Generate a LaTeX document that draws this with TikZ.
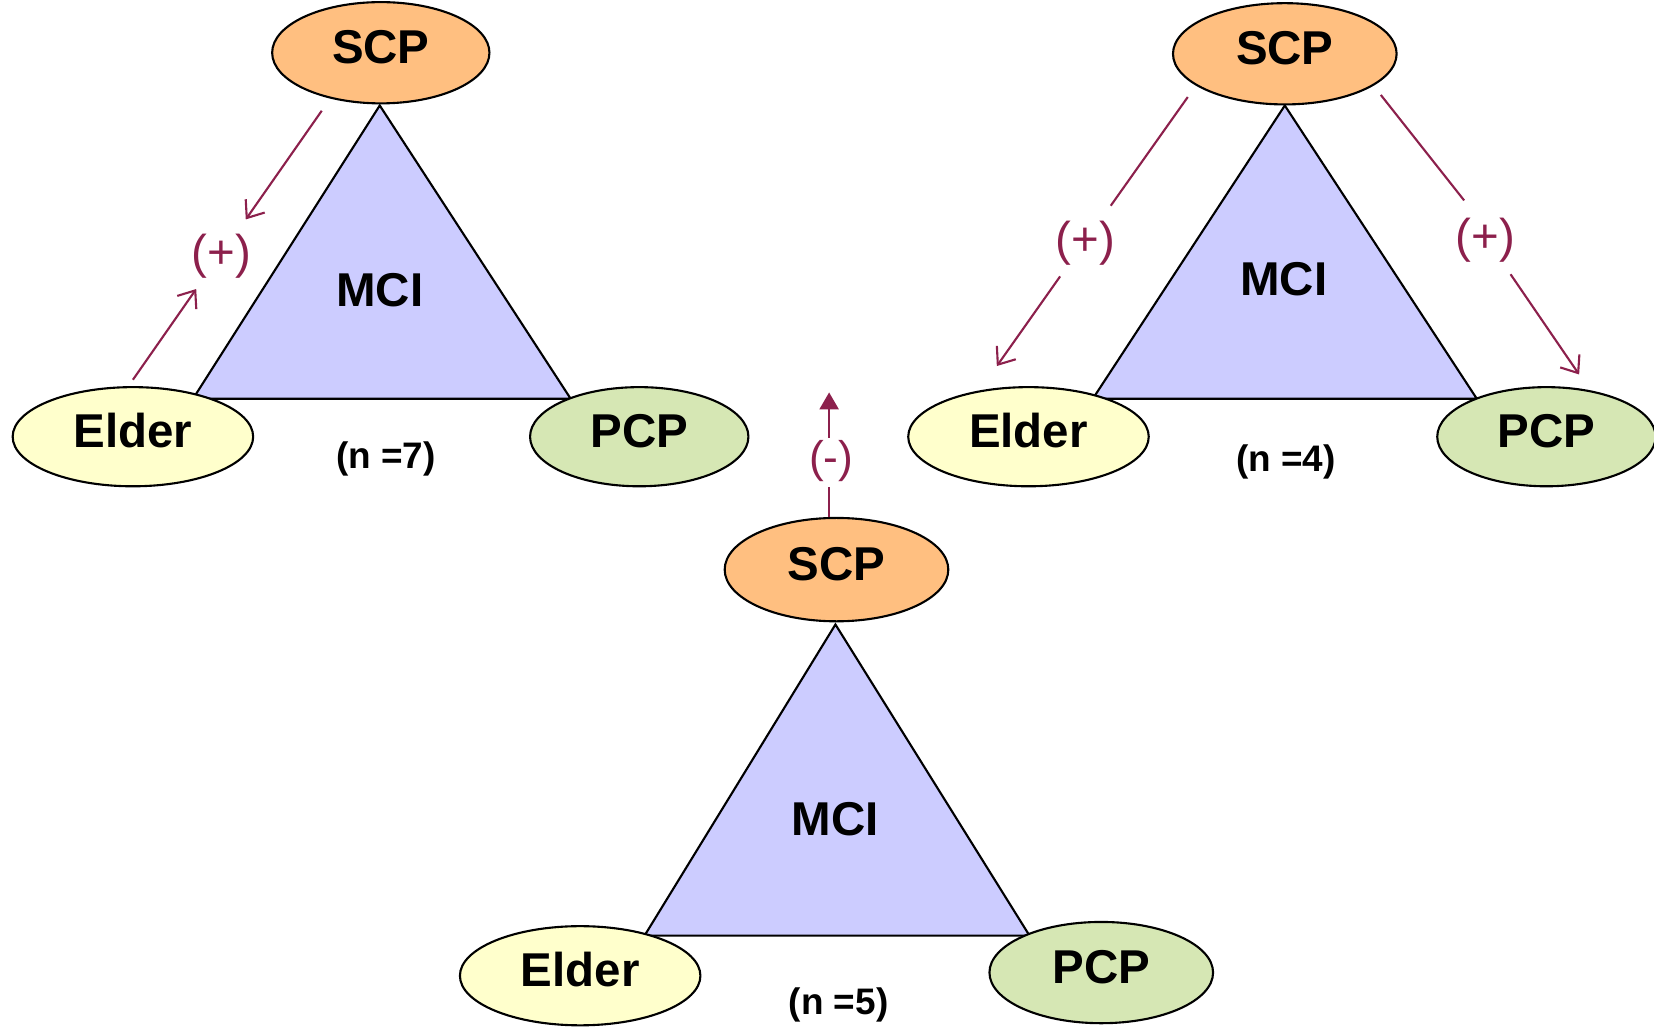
\documentclass[tikz,border=0pt]{standalone}
\usepackage{fontspec}
\setmainfont{Liberation Sans}
\usetikzlibrary{shapes.geometric,arrows.meta}
\definecolor{scpfill}{RGB}{255,191,128}
\definecolor{elderfill}{RGB}{255,255,204}
\definecolor{pcpfill}{RGB}{214,231,180}
\definecolor{trifill}{RGB}{204,204,255}
\definecolor{maroon}{RGB}{140,32,76}
\tikzset{
  oval/.style={ellipse, draw=black, line width=2pt, inner sep=0pt,
    text height=32pt, text depth=12pt,
    font=\fontsize{45}{50}\selectfont\bfseries},
  scpnode/.style={oval, fill=scpfill, minimum width=206pt, minimum height=96pt},
  eldernode/.style={oval, fill=elderfill, minimum width=228pt, minimum height=94pt},
  pcpnode/.style={oval, fill=pcpfill, minimum width=207pt, minimum height=94pt},
  tri/.style={draw=black, fill=trifill, line width=2pt, line join=miter},
  mcitext/.style={font=\fontsize{45}{50}\selectfont\bfseries},
  ntext/.style={font=\fontsize{35}{40}\selectfont\bfseries},
  signtext/.style={text=maroon, font=\fontsize{45}{50}\selectfont},
  link/.style={draw=maroon, line width=2pt},
  openarrow/.style={link, -{Straight Barb[length=14pt,width=22pt,line width=2pt]}},
  fillarrow/.style={link, -{Triangle[length=16pt,width=18pt]}}
}
\begin{document}
\begin{tikzpicture}[x=1pt,y=-1pt]
\useasboundingbox (0,0) rectangle (1568,977);

% ---------- Panel 1 ----------
\coordinate (t1a) at (360,100);
\coordinate (t1l) at (183,378);
\coordinate (t1r) at (541,378);
\draw[tri] (t1a) -- (t1l) -- (t1r) -- cycle;
\node[mcitext] (mci1) at (360,275) {MCI};
\node[scpnode] (scp1) at (361,50) {SCP};
\node[eldernode] (elder1) at (126,414) {Elder};
\node[pcpnode] (pcp1) at (606,414) {PCP};
\node[ntext] (n1) at (366,435) {(n =7)};
\node[signtext] (s1) at (210,243) {(+)};
\coordinate (a1s) at (305,105);
\coordinate (a1e) at (233,208);
\coordinate (b1s) at (126,360);
\coordinate (b1e) at (186,274);
\draw[openarrow] (a1s) -- (a1e);
\draw[openarrow] (b1s) -- (b1e);

% ---------- Panel 2 ----------
\coordinate (t2a) at (1218,100);
\coordinate (t2l) at (1036,378);
\coordinate (t2r) at (1400,378);
\draw[tri] (t2a) -- (t2l) -- (t2r) -- cycle;
\node[mcitext] (mci2) at (1217,265) {MCI};
\node[scpnode, minimum width=212pt] (scp2) at (1218,51) {SCP};
\node[eldernode] (elder2) at (975,414) {Elder};
\node[pcpnode] (pcp2) at (1466,414) {PCP};
\node[ntext] (n2) at (1219,438) {(n =4)};
\node[signtext] (s2) at (1029,231) {(+)};
\node[signtext] (s3) at (1408,228) {(+)};
\coordinate (c2s) at (1126,92);
\coordinate (c2e) at (1053,195);
\coordinate (d2s) at (1005,262);
\coordinate (d2e) at (945,347);
\coordinate (e2s) at (1309,90);
\coordinate (e2e) at (1388,190);
\coordinate (f2s) at (1432,260);
\coordinate (f2e) at (1497,355);
\draw[link] (c2s) -- (c2e);
\draw[openarrow] (d2s) -- (d2e);
\draw[link] (e2s) -- (e2e);
\draw[openarrow] (f2s) -- (f2e);

% ---------- Panel 3 ----------
\coordinate (t3a) at (792,592);
\coordinate (t3l) at (611,887);
\coordinate (t3r) at (976,887);
\draw[tri] (t3a) -- (t3l) -- (t3r) -- cycle;
\node[mcitext] (mci3) at (792,777) {MCI};
\node[scpnode, minimum width=212pt, minimum height=98pt] (scp3) at (793,540) {SCP};
\node[eldernode] (elder3) at (550,925) {Elder};
\node[pcpnode, minimum width=212pt, minimum height=96pt] (pcp3) at (1044,922) {PCP};
\node[ntext] (n3) at (795,953) {(n =5)};
\node[signtext, font=\fontsize{42}{48}\selectfont] (s4) at (788,437) {(-)};
\coordinate (g3e) at (786,462);
\coordinate (h3s) at (786,415);
\coordinate (h3e) at (786,372);
\draw[link] (scp3.north -| g3e) -- (g3e);
\draw[fillarrow] (h3s) -- (h3e);
\end{tikzpicture}
\end{document}
